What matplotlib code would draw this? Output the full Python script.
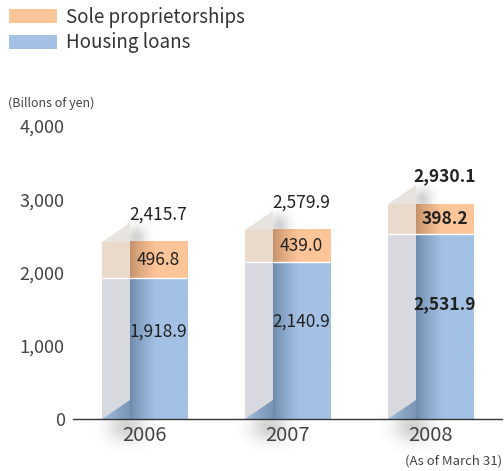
import numpy as np
import matplotlib
matplotlib.use('Agg')
import matplotlib.pyplot as plt
from matplotlib.patches import Polygon, Rectangle, Patch
from matplotlib.colors import to_rgb

# ---- data ----
years = ['2006', '2007', '2008']
housing = [1918.9, 2140.9, 2531.9]
sole = [496.8, 439.0, 398.2]
totals = [2415.7, 2579.9, 2930.1]
housing_labels = ['1,918.9', '2,140.9', '2,531.9']
sole_labels = ['496.8', '439.0', '398.2']
total_labels = ['2,415.7', '2,579.9', '2,930.1']
yticks = [0, 1000, 2000, 3000, 4000]
ytick_labels = ['0', '1,000', '2,000', '3,000', '4,000']
series_names = ['Sole proprietorships', 'Housing loans']

plt.rcParams['font.family'] = ['Noto Sans CJK JP', 'DejaVu Sans']
TXT = '#333333'

W, H = 504, 471
fig = plt.figure(figsize=(W / 100, H / 100), dpi=100)
ax = fig.add_axes([73 / W, (H - 419) / H, (502 - 73) / W, (419 - 126) / H])
ax.set_xlim(-0.5, 2.5)
ax.set_ylim(0, 4000)
ax.set_autoscale_on(False)

half = 0.2975      # half width of whole bar (side + front)
side_w = 0.196     # width of side panel
depth = 260        # vertical offset of 3D depth (data units)

BLUE_L, BLUE_R = '#6d8aac', '#a3c1e4'
ORG_L, ORG_R = '#c39069', '#fdc598'


def hgrad(c_left, c_right, split=0.45, n=200):
    a = np.array(to_rgb(c_left))
    b = np.array(to_rgb(c_right))
    t = np.clip(np.linspace(0, 1, n) / split, 0, 1)
    t = t ** 0.8
    arr = a[None, :] * (1 - t[:, None]) + b[None, :] * t[:, None]
    return arr[None, :, :]


def blob(ax, cx, cy, sx, sy, alpha, color=(0.2, 0.2, 0.2)):
    n = 60
    xs = np.linspace(-2.5, 2.5, n)
    X, Y = np.meshgrid(xs, xs)
    g = np.exp(-(X ** 2 + Y ** 2) / 2)
    img = np.zeros((n, n, 4))
    img[..., :3] = color
    img[..., 3] = g * alpha
    ax.imshow(img, extent=[cx - 2.5 * sx, cx + 2.5 * sx, cy - 2.5 * sy, cy + 2.5 * sy],
              aspect='auto', interpolation='bilinear', zorder=1, clip_on=False)


for i in range(len(years)):
    xs0 = i - half
    xf0 = xs0 + side_w
    xf1 = i + half
    hb = housing[i]
    tot = hb + sole[i]

    # soft shadows
    blob(ax, xf0 + 0.04, tot + 60, 0.05, 110, 0.22)
    blob(ax, xf0 - 0.03, -120, 0.09, 140, 0.22)

    # side panel
    ax.add_patch(Rectangle((xs0, 0), side_w, hb, facecolor='#d7d9df', edgecolor='none', zorder=2))
    ax.add_patch(Rectangle((xs0, hb), side_w, sole[i], facecolor='#eadacc', edgecolor='none', zorder=2))
    ax.add_patch(Polygon([(xs0, tot), (xf0, tot), (xf0, tot + depth)], closed=True,
                         facecolor='#e7e4e0', edgecolor='none', zorder=2))
    # bottom reflection triangle on side
    tri = Polygon([(xs0, 0), (xf0, 0), (xf0, depth)], closed=True,
                  facecolor='none', edgecolor='none', zorder=3)
    ax.add_patch(tri)
    im = ax.imshow(hgrad('#a7c2e0', '#7893b3', split=1.0), extent=[xs0, xf0, 0, depth],
                   aspect='auto', interpolation='bilinear', zorder=3)
    im.set_clip_path(tri)

    # front faces with gradient
    ax.imshow(hgrad(BLUE_L, BLUE_R), extent=[xf0, xf1, 0, hb], aspect='auto',
              interpolation='bilinear', zorder=4)
    ax.imshow(hgrad(ORG_L, ORG_R), extent=[xf0, xf1, hb, tot], aspect='auto',
              interpolation='bilinear', zorder=4)
    # white separator
    ax.plot([xs0, xf1], [hb, hb], color='white', lw=1.0, zorder=5, solid_capstyle='butt')

    fw = 'bold' if i == len(years) - 1 else 'normal'
    xc = (xf0 + xf1) / 2
    ax.text(xc, hb * 0.62, housing_labels[i], ha='center', va='center', fontsize=12.5,
            color='#222222', fontweight=fw, zorder=6)
    ax.text(xc, hb + sole[i] / 2, sole_labels[i], ha='center', va='center', fontsize=12.5,
            color='#222222', fontweight=fw, zorder=6)
    ax.text(xc, totals[i] + 380, total_labels[i], ha='center', va='center', fontsize=12.5,
            color='#222222', fontweight=fw, zorder=6)

# axes styling
for s in ['left', 'right', 'top']:
    ax.spines[s].set_visible(False)
ax.spines['bottom'].set_color('#333333')
ax.spines['bottom'].set_linewidth(1.0)
ax.spines['bottom'].set_zorder(7)
ax.set_yticks(yticks)
ax.set_yticklabels(ytick_labels)
ax.set_xticks(range(len(years)))
ax.set_xticklabels(years)
ax.tick_params(axis='y', length=0, pad=6, labelsize=13, labelcolor='#444444')
ax.tick_params(axis='x', length=0, pad=4, labelsize=14.5, labelcolor='#444444')
ax.patch.set_alpha(0)

fig.text(8 / W, 1 - 103 / H, '(Billons of yen)', fontsize=9, color='#444444', va='center', ha='left')
fig.text(502 / W, 1 - 461 / H, '(As of March 31)', fontsize=9.5, color='#444444', va='center', ha='right')

handles = [Patch(facecolor='#fdc598', edgecolor='none'), Patch(facecolor='#a3c1e4', edgecolor='none')]
fig.legend(handles, series_names, loc='upper left', bbox_to_anchor=(4 / W, 1 - 2 / H),
           frameon=False, fontsize=13.5, handlelength=2.6, handleheight=0.75,
           handletextpad=0.45, labelspacing=0.25, borderaxespad=0, borderpad=0.25,
           labelcolor=TXT)

fig.savefig('out.png', dpi=100)
